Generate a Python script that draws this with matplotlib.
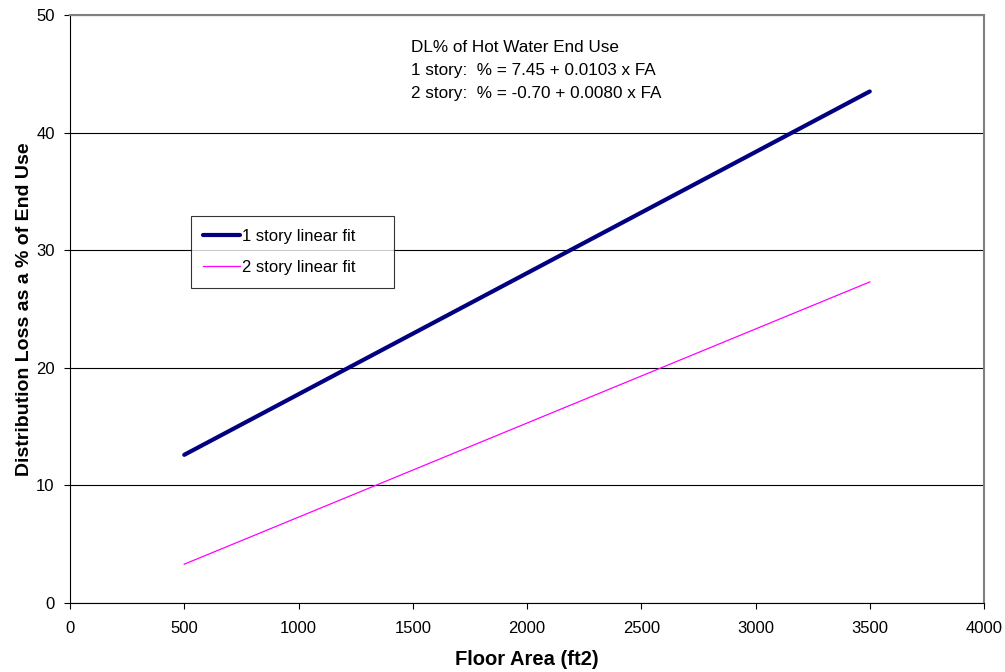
import matplotlib
matplotlib.use("Agg")
import matplotlib.pyplot as plt

plt.rcParams['font.family'] = ['Liberation Sans', 'DejaVu Sans']

# endpoints of the fitted lines
floor_area = [500, 3500]
one_story = [12.6, 43.5]
two_story = [3.3, 27.3]

x_ticks = [0, 500, 1000, 1500, 2000, 2500, 3000, 3500, 4000]
y_ticks = [0, 10, 20, 30, 40, 50]

note = ["DL% of Hot Water End Use",
        "1 story:  % = 7.45 + 0.0103 x FA",
        "2 story:  % = -0.70 + 0.0080 x FA"]

fig = plt.figure(figsize=(10.05, 6.72), dpi=100)
ax = fig.add_axes([70/1005, 1-603/672, 914/1005, 588/672])

ax.plot(floor_area, one_story, color='#000080', lw=3, solid_capstyle='round',
        label='1 story linear fit', zorder=3)
ax.plot(floor_area, two_story, color='#FF00FF', lw=0.9,
        label='2 story linear fit', zorder=3)

ax.set_xlim(0, 4000)
ax.set_ylim(0, 50)
ax.set_xticks(x_ticks)
ax.set_yticks(y_ticks)
ax.yaxis.grid(True, color='black', lw=0.8)
ax.set_axisbelow(True)

for s in ['top', 'right']:
    ax.spines[s].set_color('#808080')
    ax.spines[s].set_linewidth(1.5)
for s in ['left', 'bottom']:
    ax.spines[s].set_color('black')
    ax.spines[s].set_linewidth(0.8)
ax.tick_params(labelsize=12, length=4, width=0.8)
ax.tick_params(axis='x', pad=9)
ax.tick_params(axis='y', pad=7)

ax.set_xlabel('Floor Area (ft2)', fontsize=14.5, fontweight='bold', labelpad=10)
ax.set_ylabel('Distribution Loss as a % of End Use', fontsize=14,
              fontweight='bold', labelpad=2)

ax.text(0.373, 0.957, "\n".join(note), transform=ax.transAxes, fontsize=12.3,
        va='top', ha='left', linespacing=1.64)

# legend box spans the same width as in the original
leg = ax.legend(loc='upper left', bbox_to_anchor=(0.132, 0.538, 0.222, 0.12),
                mode='expand', fontsize=12, frameon=True, fancybox=False,
                borderpad=0.75, labelspacing=1.0, handlelength=2.2,
                handletextpad=0.15, borderaxespad=0)
leg.get_frame().set_edgecolor('black')
leg.get_frame().set_linewidth(0.8)

fig.savefig('out.png', dpi=100)
